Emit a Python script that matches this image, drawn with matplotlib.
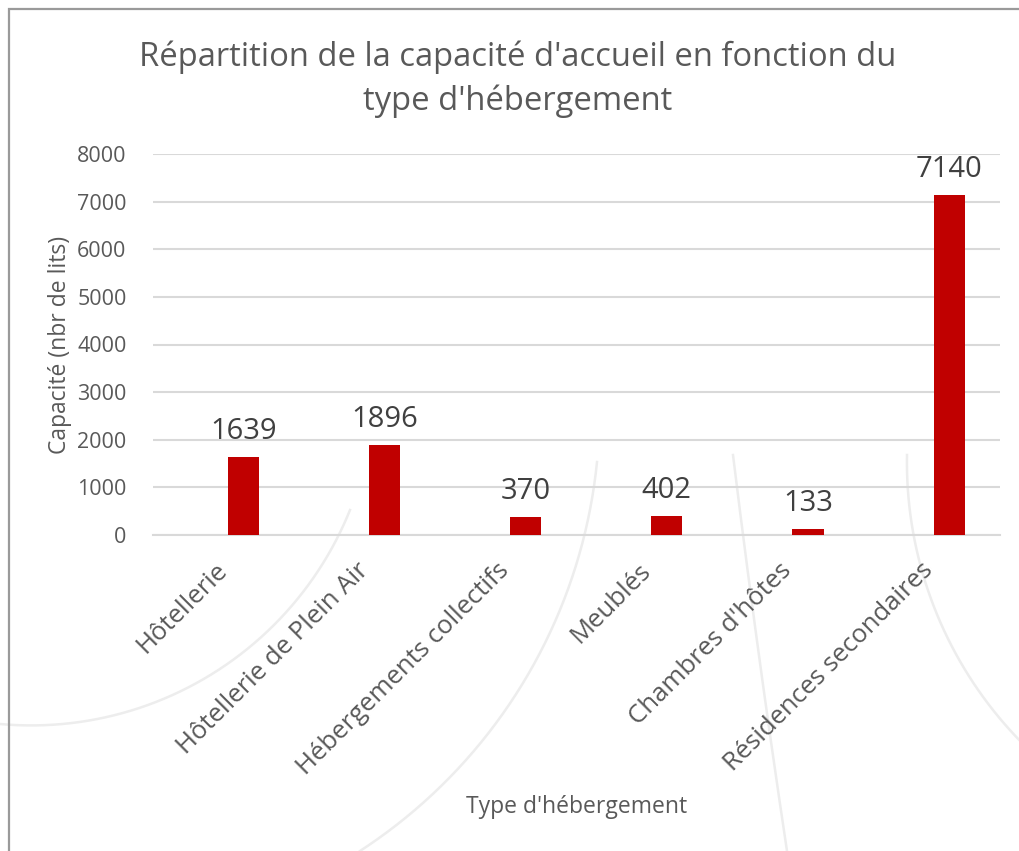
import numpy as np
import matplotlib
matplotlib.use("Agg")
import matplotlib.pyplot as plt
from matplotlib.lines import Line2D
from matplotlib.patches import Rectangle

# data
categories = ['Hôtellerie', 'Hôtellerie de Plein Air', 'Hébergements collectifs',
              'Meublés', "Chambres d'hôtes", 'Résidences secondaires']
capacite = [1639, 1896, 370, 402, 133, 7140]
yticks = [0, 1000, 2000, 3000, 4000, 5000, 6000, 7000, 8000]

title = "Répartition de la capacité d'accueil en fonction du\ntype d'hébergement"
ylabel = 'Capacité (nbr de lits)'
xlabel = "Type d'hébergement"

plt.rcParams['font.family'] = ['Open Sans', 'DejaVu Sans']

W, H = 1020, 851
fig = plt.figure(figsize=(W / 100, H / 100), dpi=100)
fig.patch.set_facecolor('white')


def circle3(p1, p2, p3):
    # circle through three points
    ax_, ay = p1
    bx, by = p2
    cx, cy = p3
    d = 2 * (ax_ * (by - cy) + bx * (cy - ay) + cx * (ay - by))
    ux = ((ax_**2 + ay**2) * (by - cy) + (bx**2 + by**2) * (cy - ay) + (cx**2 + cy**2) * (ay - by)) / d
    uy = ((ax_**2 + ay**2) * (cx - bx) + (bx**2 + by**2) * (ax_ - cx) + (cx**2 + cy**2) * (bx - ax_)) / d
    r = np.hypot(ax_ - ux, ay - uy)
    return ux, uy, r


def deco_arc(p1, p2, p3):
    # faint background arc (pixel coords, y from top)
    ux, uy, r = circle3(p1, p2, p3)
    a1 = np.arctan2(p1[1] - uy, p1[0] - ux)
    a2 = np.arctan2(p2[1] - uy, p2[0] - ux)
    a3 = np.arctan2(p3[1] - uy, p3[0] - ux)
    d13 = (a3 - a1) % (2 * np.pi)
    d12 = (a2 - a1) % (2 * np.pi)
    if d12 > d13:
        d13 = d13 - 2 * np.pi
    t = a1 + np.linspace(0, d13, 200)
    xs = (ux + r * np.cos(t)) / W
    ys = 1 - (uy + r * np.sin(t)) / H
    fig.add_artist(Line2D(xs, ys, transform=fig.transFigure, color='#ededed', lw=1.8, zorder=-5))


deco_arc((0, 724), (133, 710), (350, 510))
deco_arc((597, 462), (543, 647), (360, 851))
deco_arc((733, 455), (760, 663), (787, 851))
deco_arc((907, 455), (967, 673), (1040, 760))

# chart border (top and left only, picture is cropped)
fig.add_artist(Rectangle((9 / W, -0.1), 1.2, 1.1 - 9 / H, transform=fig.transFigure,
                         fill=False, edgecolor='#9a9a9a', lw=1.6, zorder=-4))

ax = fig.add_axes([153 / W, (H - 535) / H, (1000 - 153) / W, (535 - 154) / H])
ax.set_facecolor('none')

x = np.arange(len(categories))
bars = ax.bar(x + 0.14, capacite, width=0.22, color='#C00000', zorder=3)

for b, v in zip(bars, capacite):
    ax.annotate(str(v), (b.get_x() + b.get_width() / 2, v), xytext=(0, 13),
                textcoords='offset points', ha='center', va='baseline',
                fontsize=21, color='#404040')

ax.set_xlim(-0.5, len(categories) - 0.5)
ax.set_ylim(0, 8000)
ax.set_yticks(yticks)
ax.set_yticklabels([str(t) for t in yticks], fontsize=15.5, color='#595959')
ax.set_xticks(x)
ax.set_xticklabels(categories, rotation=45, ha='right', va='center',
                   rotation_mode='anchor', fontsize=18.5, color='#595959')
ax.tick_params(axis='y', length=0, pad=19)
ax.tick_params(axis='x', length=0, pad=23)

ax.grid(axis='y', color='#d9d9d9', lw=1.5, zorder=0)
for s in ['top', 'right', 'left']:
    ax.spines[s].set_visible(False)
ax.spines['bottom'].set_color('#d9d9d9')
ax.spines['bottom'].set_linewidth(1.5)

ax.set_ylabel(ylabel, fontsize=16.5, color='#595959')
ax.yaxis.set_label_coords((72 - 153) / (1000 - 153), 0.5)
ax.set_xlabel(xlabel, fontsize=16.5, color='#595959')
ax.xaxis.set_label_coords(0.5, (535 - 795) / (535 - 154))

fig.text(518 / W, 1 - 79 / H, title, ha='center', va='center', fontsize=23.6,
         color='#595959', linespacing=1.4)

fig.savefig('out.png', dpi=100)
